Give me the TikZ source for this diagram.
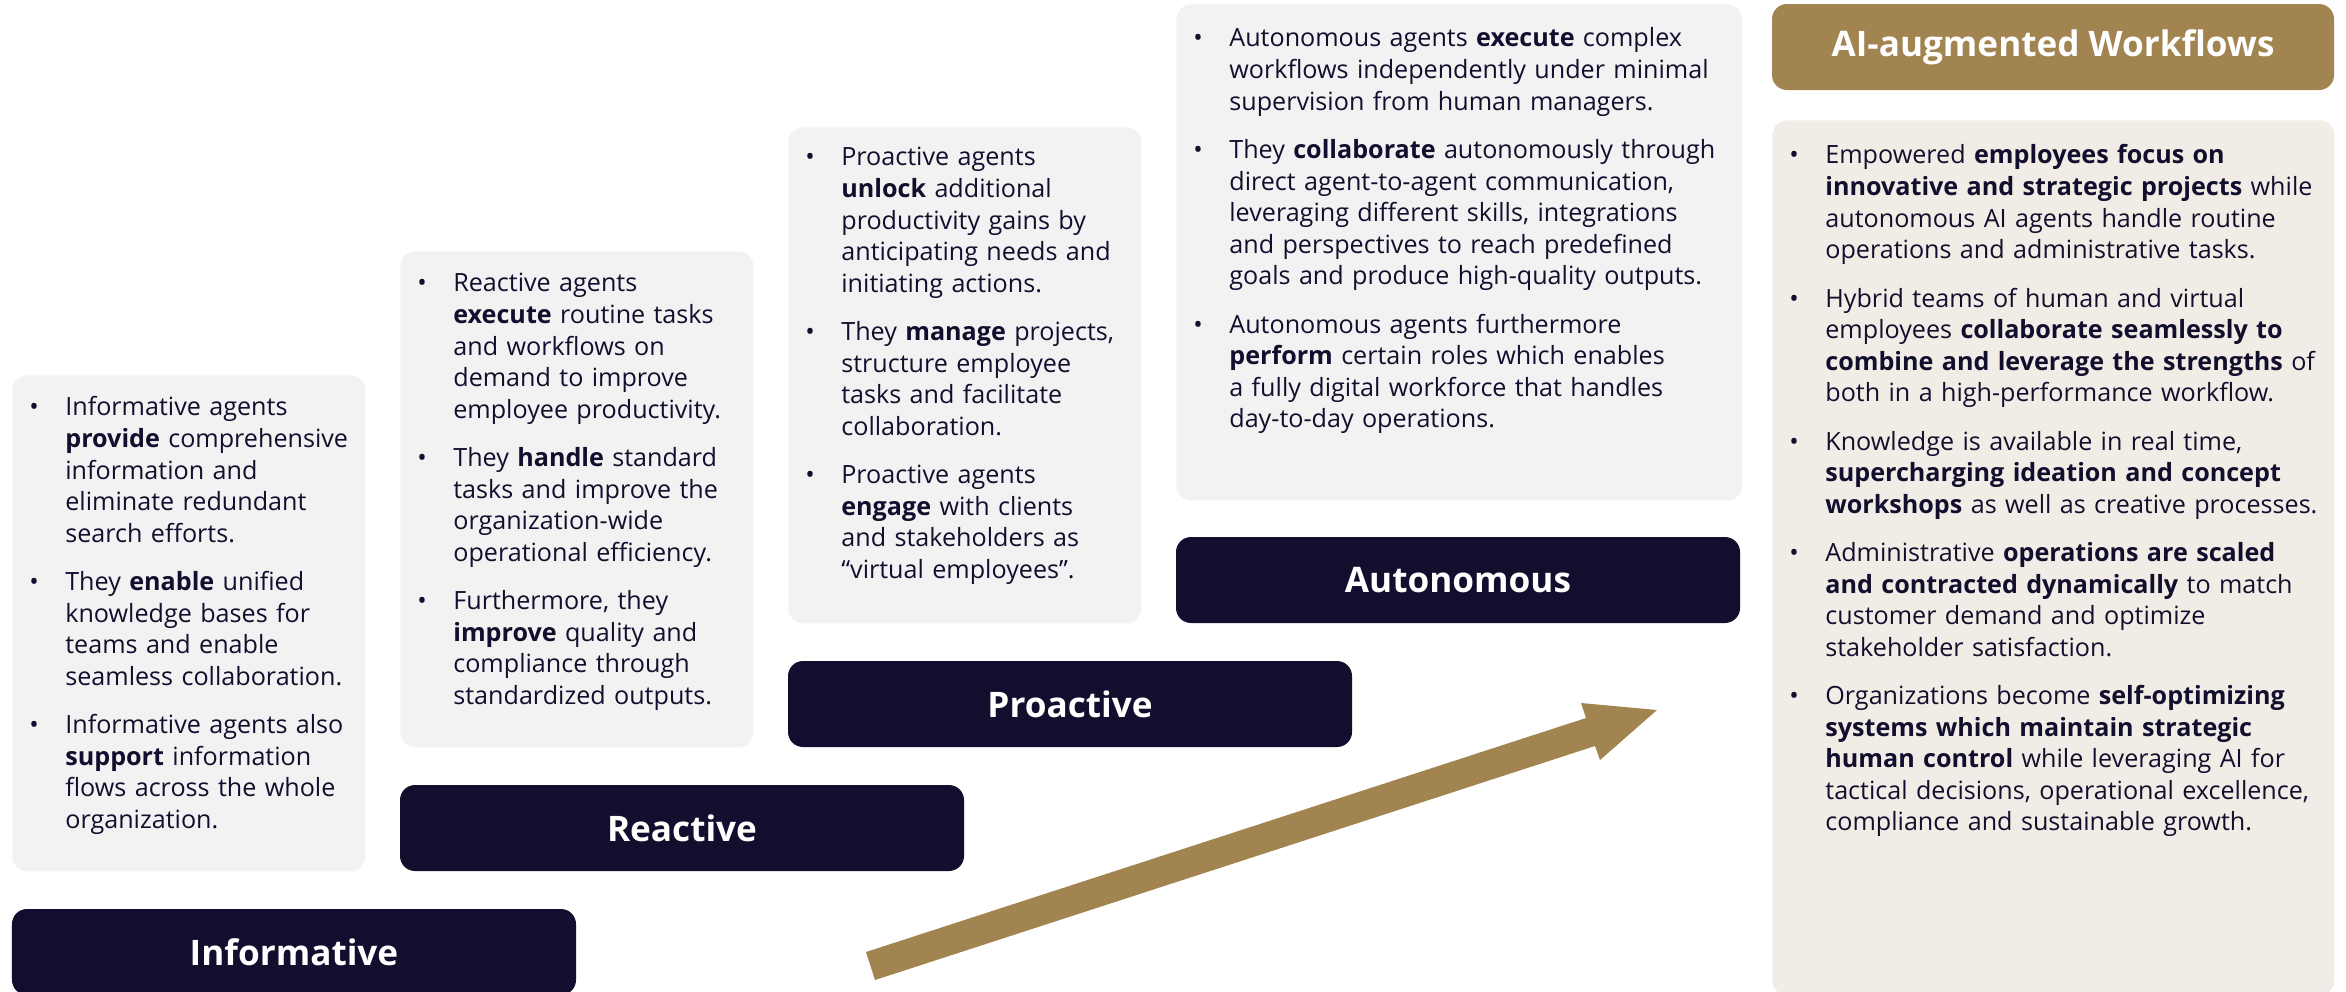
\documentclass[tikz,border=0pt]{standalone}
\usepackage{fontspec}
\setmainfont{Open Sans}
\usepackage{xcolor}
\usepackage{tikz}
\definecolor{stagecolor}{RGB}{18,14,45}
\definecolor{goldcolor}{RGB}{161,132,80}
\definecolor{greycolor}{RGB}{242,242,242}
\definecolor{beigecolor}{RGB}{241,237,230}
\newcommand{\bodyfont}{\fontsize{14.3}{18}\selectfont}
\newcommand{\stagefont}{\fontsize{20}{24}\selectfont\bfseries}
\newenvironment{agentlist}{\begin{list}{\textbullet}{%
    \setlength{\leftmargin}{10.6mm}\setlength{\labelwidth}{4mm}%
    \setlength{\labelsep}{3.2mm}\setlength{\itemsep}{3.3mm}%
    \setlength{\parsep}{0pt}\setlength{\topsep}{0pt}\setlength{\partopsep}{0pt}%
    \renewcommand{\makelabel}[1]{##1\hfil}}}{\end{list}}

\begin{document}
\begin{tikzpicture}[
    x=0.2mm, y=-0.2mm,
    stage/.style={fill=stagecolor, text=white, font=\stagefont, minimum width=112.8mm, minimum height=17.2mm, rounded corners=3mm, inner sep=0pt},
    panel/.style={fill=greycolor, rounded corners=3mm, minimum width=#1, minimum height=99.2mm, anchor=north west, inner sep=0pt},
    bodytext/.style={anchor=north west, inner sep=0pt, text width=#1, align=left, font=\bodyfont, text=stagecolor}
]
    \fill[white, use as bounding box] (0,0) rectangle (2346,991);
    \clip (0,0) rectangle (2346,991);

    % Stage labels
    \node[stage] (infoLabel) at (294,952) {Informative};
    \node[stage] (reactLabel) at (682,828) {Reactive};
    \node[stage] (proLabel) at (1070,704) {Proactive};
    \node[stage] (autoLabel) at (1458,580) {Autonomous};

    % Description panels
    \node[panel=70.6mm] (infoBox) at (12,375) {};
    \node[bodytext=78mm] (infoText) at ([yshift=-1.8mm]infoBox.north west) {%
    \begin{agentlist}
    \item Informative agents\newline \textbf{provide} comprehensive\newline information and\newline eliminate redundant\newline search efforts.
    \item They \textbf{enable} unified\newline knowledge bases for\newline teams and enable\newline seamless collaboration.
    \item Informative agents also\newline \textbf{support} information\newline flows across the whole\newline organization.
    \end{agentlist}};

    \node[panel=70.6mm] (reactBox) at (400,251) {};
    \node[bodytext=78mm] (reactText) at ([yshift=-1.8mm]reactBox.north west) {%
    \begin{agentlist}
    \item Reactive agents\newline \textbf{execute} routine tasks\newline and workflows on\newline demand to improve\newline employee productivity.
    \item They \textbf{handle} standard\newline tasks and improve the\newline organization-wide\newline operational efficiency.
    \item Furthermore, they\newline \textbf{improve} quality and\newline compliance through\newline standardized outputs.
    \end{agentlist}};

    \node[panel=70.6mm] (proBox) at (788,127) {};
    \node[bodytext=78mm] (proText) at ([yshift=-1.4mm]proBox.north west) {%
    \begin{agentlist}
    \item Proactive agents\newline \textbf{unlock} additional\newline productivity gains by\newline anticipating needs and\newline initiating actions.
    \item They \textbf{manage} projects,\newline structure employee\newline tasks and facilitate\newline collaboration.
    \item Proactive agents\newline \textbf{engage} with clients\newline and stakeholders as\newline “virtual employees”.
    \end{agentlist}};

    \node[panel=113.2mm] (autoBox) at (1176,4) {};
    \node[bodytext=120mm] (autoText) at ([yshift=-2.2mm]autoBox.north west) {%
    \begin{agentlist}
    \item Autonomous agents \textbf{execute} complex\newline workflows independently under minimal\newline supervision from human managers.
    \item They \textbf{collaborate} autonomously through\newline direct agent-to-agent communication,\newline leveraging different skills, integrations\newline and perspectives to reach predefined\newline goals and produce high-quality outputs.
    \item Autonomous agents furthermore\newline \textbf{perform} certain roles which enables\newline a fully digital workforce that handles\newline day-to-day operations.
    \end{agentlist}};

    % AI-augmented workflows column
    \node[stage, fill=goldcolor, minimum width=112.4mm] (flowHead) at (2053,47) {AI-augmented Workflows};
    \node[panel=112.4mm, fill=beigecolor, minimum height=175mm] (flowBox) at (1772,120) {};
    \node[bodytext=120mm] (flowText) at ([yshift=-2.4mm]flowBox.north west) {%
    \begin{agentlist}
    \item Empowered \textbf{employees focus on\newline innovative and strategic projects} while\newline autonomous AI agents handle routine\newline operations and administrative tasks.
    \item Hybrid teams of human and virtual\newline employees \textbf{collaborate seamlessly to\newline combine and leverage the strengths} of\newline both in a high-performance workflow.
    \item Knowledge is available in real time,\newline \textbf{supercharging ideation and concept\newline workshops} as well as creative processes.
    \item Administrative \textbf{operations are scaled\newline and contracted dynamically} to match\newline customer demand and optimize\newline stakeholder satisfaction.
    \item Organizations become \textbf{self-optimizing\newline systems which maintain strategic\newline human control} while leveraging AI for\newline tactical decisions, operational excellence,\newline compliance and sustainable growth.
    \end{agentlist}};

    % Growth arrow
    \coordinate (arrTailA) at (866,952);
    \coordinate (arrTailB) at (875,980);
    \coordinate (arrShaftA) at (1586,718);
    \coordinate (arrShaftB) at (1595,746);
    \coordinate (arrBarbA) at (1581,703);
    \coordinate (arrBarbB) at (1600,760);
    \coordinate (arrTip) at (1657,710);
    \fill[goldcolor] (arrTailA) -- (arrShaftA) -- (arrBarbA) -- (arrTip) -- (arrBarbB) -- (arrShaftB) -- (arrTailB) -- cycle;
\end{tikzpicture}
\end{document}
